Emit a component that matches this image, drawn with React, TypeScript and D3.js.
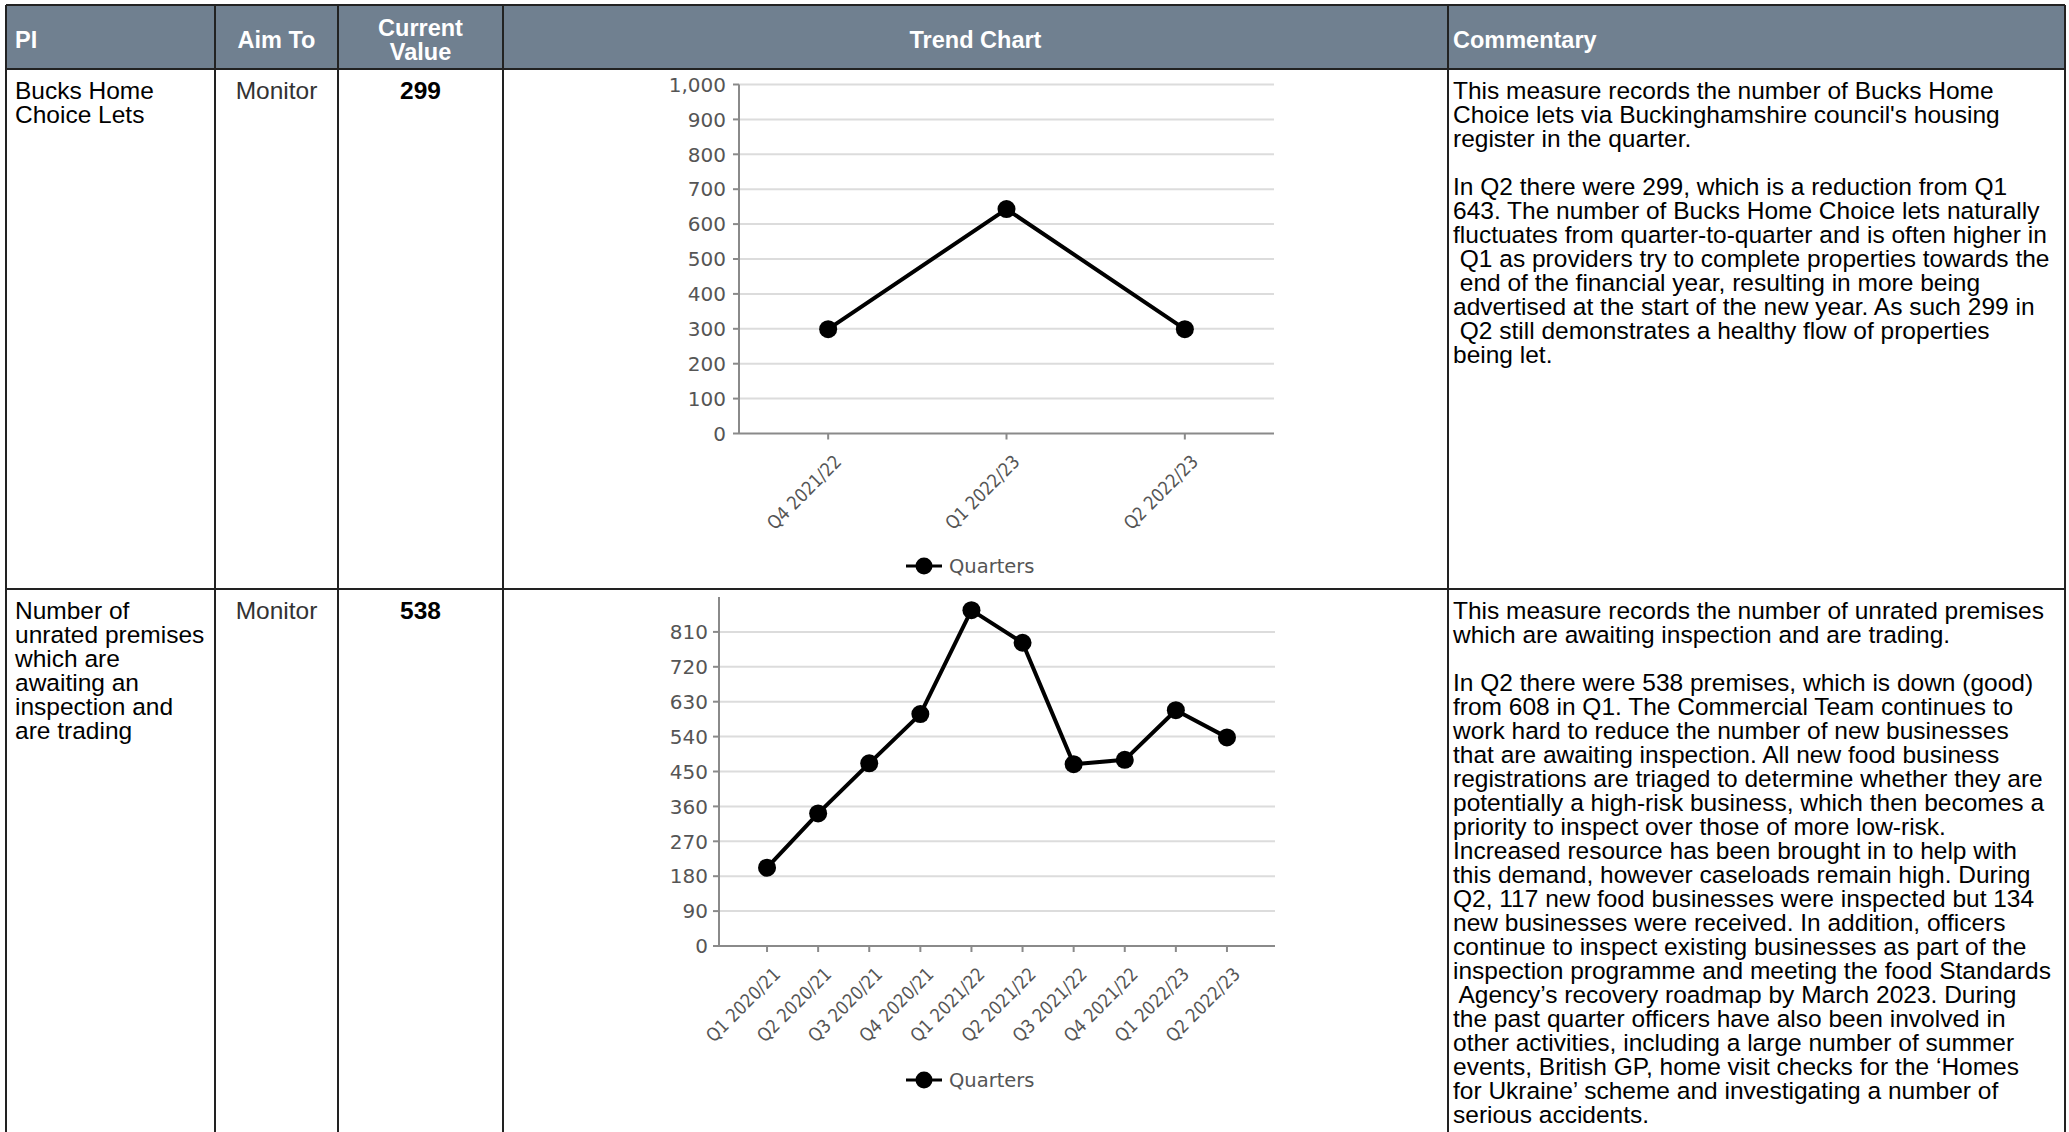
import React from "react";
import * as d3 from "d3";

// ---------- data ----------
const headerLabels = ["PI", "Aim To", "Current Value", "Trend Chart", "Commentary"];

const row1PI = ["Bucks Home", "Choice Lets"];
const row1Aim = "Monitor";
const row1Current = "299";
const chart1Categories = ["Q4 2021/22", "Q1 2022/23", "Q2 2022/23"];
const chart1Values = [299, 643, 299];
const chart1YTicks = [0, 100, 200, 300, 400, 500, 600, 700, 800, 900, 1000];
const chart1YMax = 1000;
const row1Commentary = [
  "This measure records the number of Bucks Home",
  "Choice lets via Buckinghamshire council's housing",
  "register in the quarter.",
  "",
  "In Q2 there were 299, which is a reduction from Q1",
  "643. The number of Bucks Home Choice lets naturally",
  "fluctuates from quarter-to-quarter and is often higher in",
  " Q1 as providers try to complete properties towards the",
  " end of the financial year, resulting in more being",
  "advertised at the start of the new year. As such 299 in",
  " Q2 still demonstrates a healthy flow of properties",
  "being let.",
];

const row2PI = ["Number of", "unrated premises", "which are", "awaiting an", "inspection and", "are trading"];
const row2Aim = "Monitor";
const row2Current = "538";
const chart2Categories = [
  "Q1 2020/21", "Q2 2020/21", "Q3 2020/21", "Q4 2020/21",
  "Q1 2021/22", "Q2 2021/22", "Q3 2021/22", "Q4 2021/22",
  "Q1 2022/23", "Q2 2022/23",
];
const chart2Values = [202, 342, 471, 598, 866, 782, 469, 480, 608, 538];
const chart2YTicks = [0, 90, 180, 270, 360, 450, 540, 630, 720, 810];
const chart2YMax = 900;
const row2Commentary = [
  "This measure records the number of unrated premises",
  "which are awaiting inspection and are trading.",
  "",
  "In Q2 there were 538 premises, which is down (good)",
  "from 608 in Q1. The Commercial Team continues to",
  "work hard to reduce the number of new businesses",
  "that are awaiting inspection. All new food business",
  "registrations are triaged to determine whether they are",
  "potentially a high-risk business, which then becomes a",
  "priority to inspect over those of more low-risk.",
  "Increased resource has been brought in to help with",
  "this demand, however caseloads remain high. During",
  "Q2, 117 new food businesses were inspected but 134",
  "new businesses were received. In addition, officers",
  "continue to inspect existing businesses as part of the",
  "inspection programme and meeting the food Standards",
  " Agency\u2019s recovery roadmap by March 2023. During",
  "the past quarter officers have also been involved in",
  "other activities, including a large number of summer",
  "events, British GP, home visit checks for the \u2018Homes",
  "for Ukraine\u2019 scheme and investigating a number of",
  "serious accidents.",
];
const legendLabel = "Quarters";

// ---------- layout ----------
const W = 2069;
const H = 1132;
const colX = [6, 215, 338, 503, 1448, 2065];
const headerTop = 5;
const headerBottom = 69;
const row1Bottom = 589;
const bodyFont = "'Liberation Sans', Arial, sans-serif";
const chartFont = "'DejaVu Sans', Verdana, sans-serif";
const bodySize = 24.5;
const linePitch = 24;
const firstBaseline = 29.7;
const axisColor = "#8a8a8a";
const gridColor = "#dcdcdc";
const labelColor = "#555555";
const piTextX = colX[0] + 9;

type ChartProps = {
  categories: string[];
  values: number[];
  yTicks: number[];
  yMax: number;
  x0: number;
  x1: number;
  yTop: number;
  yBottom: number;
  padding: number;
  labelGap: number;
  legendY: number;
  fmt: (v: number) => string;
};

function TrendChart(p: ChartProps) {
  const x = d3.scalePoint<string>().domain(p.categories).range([p.x0, p.x1]).padding(p.padding);
  const y = d3.scaleLinear().domain([0, p.yMax]).range([p.yBottom, p.yTop]);
  const line = d3
    .line<number>()
    .x((_, i) => x(p.categories[i]) as number)
    .y((d) => y(d));
  const legendX = 924;
  return (
    <g>
      {p.yTicks.map((t) => (
        <g key={"g" + t}>
          {t > 0 && (
            <line x1={p.x0} x2={p.x1} y1={y(t)} y2={y(t)} stroke={gridColor} strokeWidth={2} />
          )}
          <line x1={p.x0 - 6} x2={p.x0} y1={y(t)} y2={y(t)} stroke={axisColor} strokeWidth={2} />
          <text
            x={p.x0 - p.labelGap}
            y={y(t)}
            dy="0.36em"
            textAnchor="end"
            fontFamily={chartFont}
            fontSize={20}
            fill={labelColor}
          >
            {p.fmt(t)}
          </text>
        </g>
      ))}
      <line x1={p.x0} x2={p.x0} y1={y(p.yMax)} y2={p.yBottom} stroke={axisColor} strokeWidth={2} />
      <line x1={p.x0} x2={p.x1} y1={p.yBottom} y2={p.yBottom} stroke={axisColor} strokeWidth={2} />
      {p.categories.map((c) => (
        <g key={c}>
          <line
            x1={x(c)}
            x2={x(c)}
            y1={p.yBottom}
            y2={p.yBottom + 6}
            stroke={axisColor}
            strokeWidth={2}
          />
          <text
            transform={`translate(${(x(c) as number) + 5},${p.yBottom + 20}) rotate(-45) scale(0.88,1)`}
            dy="0.72em"
            textAnchor="end"
            fontFamily={chartFont}
            fontSize={18.5}
            fill={labelColor}
          >
            {c}
          </text>
        </g>
      ))}
      <path d={line(p.values) || ""} fill="none" stroke="#000" strokeWidth={4} strokeLinejoin="round" />
      {p.values.map((v, i) => (
        <circle key={i} cx={x(p.categories[i])} cy={y(v)} r={9} fill="#000" />
      ))}
      <line x1={legendX - 18} x2={legendX + 18} y1={p.legendY} y2={p.legendY} stroke="#000" strokeWidth={3} />
      <circle cx={legendX} cy={p.legendY} r={8.5} fill="#000" />
      <text
        x={legendX + 25}
        y={p.legendY}
        dy="0.36em"
        fontFamily={chartFont}
        fontSize={19.5}
        fill={labelColor}
      >
        {legendLabel}
      </text>
    </g>
  );
}

function Lines({ lines, x, top, anchor, weight, fill }: { lines: string[]; x: number; top: number; anchor?: string; weight?: string; fill?: string }) {
  return (
    <g>
      {lines.map((l, i) =>
        l ? (
          <text
            key={i}
            x={x}
            y={top + firstBaseline + i * linePitch}
            fontFamily={bodyFont}
            fontSize={bodySize}
            fontWeight={weight || "normal"}
            textAnchor={anchor || "start"}
            fill={fill || "#000"}
            style={{ whiteSpace: "pre" }}
          >
            {l}
          </text>
        ) : null
      )}
    </g>
  );
}

export default function App() {
  const fmt1 = d3.format(",");
  const fmt2 = d3.format("d");
  const headerY = 48;
  const hdr = { fontFamily: bodyFont, fontSize: 23.5, fontWeight: "bold", fill: "#fff" } as const;
  const cx = (i: number) => (colX[i] + colX[i + 1]) / 2;
  const [curTop, curBottom] = headerLabels[2].split(" ");
  return (
    <svg
      width={W}
      height={H}
      style={{ position: "absolute", left: 0, top: 0, background: "#fff" }}
    >
      <rect x={0} y={0} width={W} height={H} fill="#fff" />
      <rect x={colX[0]} y={headerTop} width={colX[5] - colX[0]} height={headerBottom - headerTop} fill="#708090" />
      <text x={piTextX} y={headerY} {...hdr}>{headerLabels[0]}</text>
      <text x={cx(1)} y={headerY} textAnchor="middle" {...hdr}>{headerLabels[1]}</text>
      <text x={cx(2)} y={36} textAnchor="middle" {...hdr}>{curTop}</text>
      <text x={cx(2)} y={59.5} textAnchor="middle" {...hdr}>{curBottom}</text>
      <text x={cx(3)} y={headerY} textAnchor="middle" {...hdr}>{headerLabels[3]}</text>
      <text x={colX[4] + 5} y={headerY} {...hdr}>{headerLabels[4]}</text>

      {/* row 1 */}
      <Lines lines={row1PI} x={piTextX} top={headerBottom} />
      <Lines lines={[row1Aim]} x={cx(1)} top={headerBottom} anchor="middle" fill="#333" />
      <Lines lines={[row1Current]} x={cx(2)} top={headerBottom} anchor="middle" weight="bold" />
      <Lines lines={row1Commentary} x={colX[4] + 5} top={headerBottom} />
      <TrendChart
        categories={chart1Categories}
        values={chart1Values}
        yTicks={chart1YTicks}
        yMax={chart1YMax}
        x0={739}
        x1={1274}
        yTop={84.5}
        yBottom={433.5}
        padding={0.5}
        labelGap={13}
        legendY={566}
        fmt={fmt1}
      />

      {/* row 2 */}
      <Lines lines={row2PI} x={piTextX} top={row1Bottom} />
      <Lines lines={[row2Aim]} x={cx(1)} top={row1Bottom} anchor="middle" fill="#333" />
      <Lines lines={[row2Current]} x={cx(2)} top={row1Bottom} anchor="middle" weight="bold" />
      <Lines lines={row2Commentary} x={colX[4] + 5} top={row1Bottom} />
      <TrendChart
        categories={chart2Categories}
        values={chart2Values}
        yTicks={chart2YTicks}
        yMax={chart2YMax}
        x0={719}
        x1={1275}
        yTop={597}
        yBottom={946}
        padding={0.94}
        labelGap={11}
        legendY={1080}
        fmt={fmt2}
      />

      {/* table borders */}
      {colX.map((x) => (
        <line key={"v" + x} x1={x} x2={x} y1={headerTop} y2={H} stroke="#222" strokeWidth={2} />
      ))}
      {[headerTop, headerBottom, row1Bottom].map((y) => (
        <line key={"h" + y} x1={colX[0]} x2={colX[5]} y1={y} y2={y} stroke="#222" strokeWidth={2} />
      ))}
    </svg>
  );
}
